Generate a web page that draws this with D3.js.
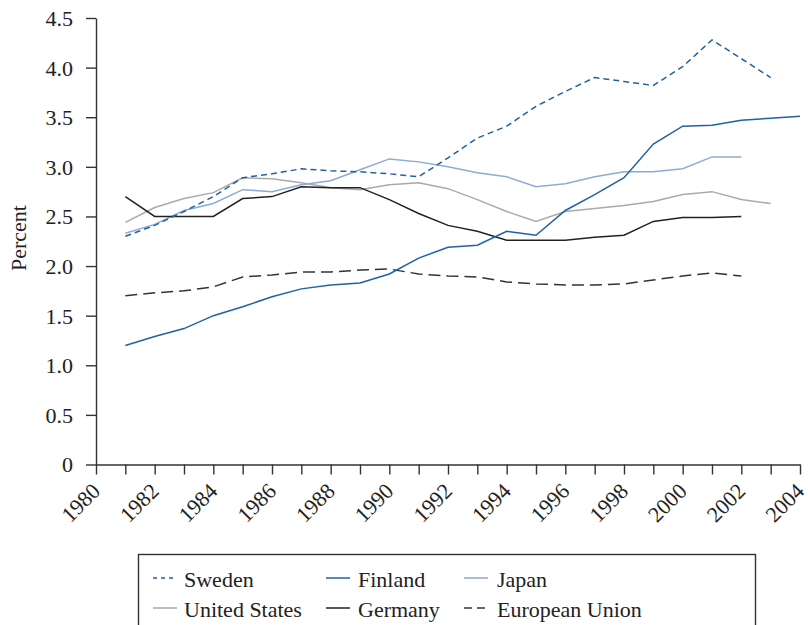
<!DOCTYPE html>
<html>
<head>
<meta charset="utf-8">
<script src="https://cdn.jsdelivr.net/npm/d3@7"></script>
<style>
  body { margin: 0; background: #fff; }
  svg { display: block; }
</style>
</head>
<body>
<svg width="808" height="625"></svg>
<script>
// years on the x axis, one point per year
const years = d3.range(1981, 2005)
const yTicks = [0, 0.5, 1.0, 1.5, 2.0, 2.5, 3.0, 3.5, 4.0, 4.5]
const xTicks = d3.range(1980, 2005)
const xLabels = d3.range(1980, 2005, 2)

// values (percent), starting in 1981
const sweden = [2.30, 2.41, 2.55, 2.70, 2.89, 2.93, 2.98, 2.96, 2.95, 2.93, 2.90, 3.09, 3.29, 3.41, 3.61, 3.76, 3.90, 3.86, 3.82, 4.01, 4.28, 4.09, 3.90]
const finland = [1.20, 1.29, 1.37, 1.50, 1.59, 1.69, 1.77, 1.81, 1.83, 1.92, 2.08, 2.19, 2.21, 2.35, 2.31, 2.56, 2.72, 2.89, 3.23, 3.41, 3.42, 3.47, 3.49, 3.51]
const japan = [2.33, 2.42, 2.56, 2.63, 2.77, 2.75, 2.82, 2.86, 2.97, 3.08, 3.05, 3.00, 2.94, 2.90, 2.80, 2.83, 2.90, 2.95, 2.95, 2.98, 3.10, 3.10]
const unitedStates = [2.44, 2.59, 2.68, 2.74, 2.89, 2.88, 2.84, 2.79, 2.77, 2.82, 2.84, 2.78, 2.67, 2.55, 2.45, 2.55, 2.58, 2.61, 2.65, 2.72, 2.75, 2.67, 2.63]
const germany = [2.70, 2.50, 2.50, 2.50, 2.68, 2.70, 2.80, 2.79, 2.79, 2.67, 2.53, 2.41, 2.35, 2.26, 2.26, 2.26, 2.29, 2.31, 2.45, 2.49, 2.49, 2.50]
const europeanUnion = [1.70, 1.73, 1.75, 1.79, 1.89, 1.91, 1.94, 1.94, 1.96, 1.97, 1.92, 1.90, 1.89, 1.84, 1.82, 1.81, 1.81, 1.82, 1.86, 1.90, 1.93, 1.90]

const seriesNames = ["Sweden", "Finland", "Japan", "United States", "Germany", "European Union"]

const FONT = "'Liberation Serif', 'DejaVu Serif', serif"

// styles per series
const styles = {
  "Sweden":         {color: "#1f62a3", dash: "6,4"},
  "Finland":        {color: "#1f62a3", dash: null},
  "Japan":          {color: "#8eaad6", dash: null},
  "United States":  {color: "#aaaaaa", dash: null},
  "Germany":        {color: "#222222", dash: null},
  "European Union": {color: "#333333", dash: "12,6"}
}

const seriesValues = {
  "Sweden": sweden,
  "Finland": finland,
  "Japan": japan,
  "United States": unitedStates,
  "Germany": germany,
  "European Union": europeanUnion
}

const svg = d3.select("svg")

const x = d3.scaleLinear().domain([1980, 2004]).range([96, 800])
const y = d3.scaleLinear().domain([0, 4.5]).range([464.5, 18])

// y axis
const yAxis = svg.append("g")
  .attr("transform", "translate(96,0)")
  .call(d3.axisLeft(y)
    .tickValues(yTicks)
    .tickSize(10)
    .tickSizeOuter(0)
    .tickPadding(13)
    .tickFormat(d => d === 0 ? "0" : d3.format(".1f")(d)))
yAxis.attr("font-family", FONT)
yAxis.selectAll("text")
  .style("font-family", FONT)
  .style("font-size", "22px")
  .attr("fill", "#222")
  .attr("dy", "0.34em")

// x axis
const xAxis = svg.append("g")
  .attr("transform", "translate(0,464.5)")
  .call(d3.axisBottom(x)
    .tickValues(xTicks)
    .tickSize(10)
    .tickSizeOuter(0)
    .tickFormat(d => xLabels.includes(d) ? d : ""))
xAxis.attr("font-family", FONT)
xAxis.selectAll("text")
  .style("font-family", FONT)
  .style("font-size", "22px")
  .attr("fill", "#222")
  .attr("text-anchor", "end")
  .attr("dy", 0)
  .attr("y", 0)
  .attr("transform", "translate(5,28) rotate(-45)")

svg.selectAll(".domain, .tick line").attr("stroke", "#333").attr("stroke-width", 1.4)

// y axis title
svg.append("text")
  .attr("transform", "translate(26,238) rotate(-90)")
  .attr("text-anchor", "middle")
  .style("font-family", FONT)
  .style("font-size", "22px")
  .attr("fill", "#222")
  .text("Percent")

// lines
const line = d3.line()
  .x((d, i) => x(years[i]))
  .y(d => y(d))

const drawOrder = ["United States", "Japan", "European Union", "Germany", "Finland", "Sweden"]
drawOrder.forEach(name => {
  svg.append("path")
    .datum(seriesValues[name])
    .attr("d", line)
    .attr("fill", "none")
    .attr("stroke", styles[name].color)
    .attr("stroke-width", 1.5)
    .attr("stroke-dasharray", styles[name].dash)
})

// legend
svg.append("rect")
  .attr("x", 138.5)
  .attr("y", 554.5)
  .attr("width", 617)
  .attr("height", 100)
  .attr("fill", "none")
  .attr("stroke", "#333")
  .attr("stroke-width", 1.4)

const colX = [153, 326, 464]
const rowY = [578, 608]

const legend = svg.selectAll(".legend-item")
  .data(seriesNames)
  .enter().append("g")
  .attr("class", "legend-item")
  .attr("transform", (d, i) => "translate(" + colX[i % 3] + "," + rowY[Math.floor(i / 3)] + ")")

legend.append("line")
  .attr("x1", 0)
  .attr("x2", 24)
  .attr("stroke", d => styles[d].color)
  .attr("stroke-width", 1.5)
  .attr("stroke-dasharray", d => d === "Sweden" ? "4,4" : (d === "European Union" ? "8,5" : null))

legend.append("text")
  .attr("x", (d, i) => [31, 32, 33][i % 3])
  .attr("y", 8.5)
  .style("font-family", FONT)
  .style("font-size", "22px")
  .attr("fill", "#222")
  .text(d => d)
</script>
</body>
</html>
